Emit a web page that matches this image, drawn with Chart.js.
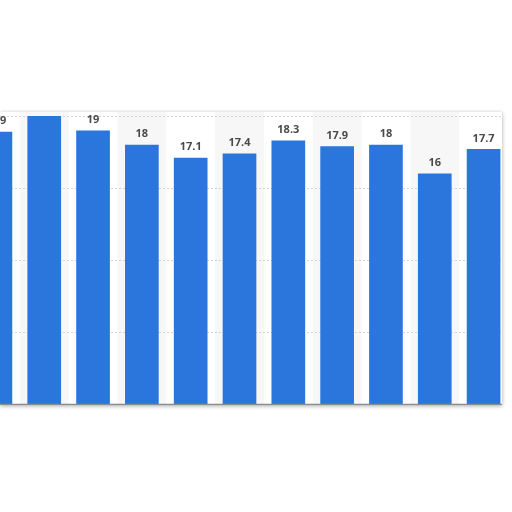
<!DOCTYPE html>
<html lang="en">

<head>
  <meta charset="UTF-8">
  <title>Bars</title>
  <script src="https://cdn.jsdelivr.net/npm/chart.js@4.4.0/dist/chart.umd.min.js"></script>
  <style>
    html, body { margin: 0; padding: 0; background: #fff; width: 512px; height: 512px; overflow: hidden; }
    #crop {
      position: absolute; left: 0; top: 112px; width: 502px; height: 293px;
      overflow: hidden; background: #fff;
      box-shadow: 0 1px 4px rgba(0, 0, 0, 0.35);
    }
    #wrap { position: absolute; left: -29px; top: -36px; width: 537px; height: 330px; }
  </style>
</head>

<body>
  <div id="crop">
    <div id="wrap"><canvas id="chart"></canvas></div>
  </div>
  <script>
    // values (x labels are cut off in the source)
    const labels = ['2009', '2010', '2011', '2012', '2013', '2014', '2015', '2016', '2017', '2018', '2019'];
    const values = [18.9, 20, 19, 18, 17.1, 17.4, 18.3, 17.9, 18, 16, 17.7];
    const gridValues = [5, 10, 15, 20];

    const extras = {
      id: 'extras',
      beforeDatasetsDraw(chart) {
        const { ctx, chartArea, scales } = chart;
        const x = scales.x, y = scales.y;
        const step = x.getPixelForValue(1) - x.getPixelForValue(0);
        ctx.save();
        // grey bands behind every other column
        ctx.fillStyle = '#f7f7f7';
        labels.forEach((l, i) => {
          if (i % 2 === 1) {
            const cx = x.getPixelForValue(i);
            ctx.fillRect(cx - step / 2, chartArea.top - 40, step, chartArea.bottom - chartArea.top + 40);
          }
        });
        // dotted grid lines
        ctx.strokeStyle = '#d4d4d4';
        ctx.lineWidth = 1;
        ctx.setLineDash([2, 2]);
        gridValues.forEach(v => {
          const py = Math.round(y.getPixelForValue(v)) + 0.5;
          ctx.beginPath();
          ctx.moveTo(chartArea.left, py);
          ctx.lineTo(chartArea.right, py);
          ctx.stroke();
        });
        ctx.restore();
      },
      afterDatasetsDraw(chart) {
        const { ctx, chartArea } = chart;
        const meta = chart.getDatasetMeta(0);
        ctx.save();
        // base line
        ctx.strokeStyle = '#8a8a8a';
        ctx.lineWidth = 1.5;
        ctx.beginPath();
        ctx.moveTo(chartArea.left, chartArea.bottom + 0.5);
        ctx.lineTo(chartArea.right, chartArea.bottom + 0.5);
        ctx.stroke();
        // value labels
        ctx.fillStyle = '#4a4a4a';
        ctx.font = 'bold 11px "Open Sans"';
        ctx.textAlign = 'center';
        ctx.textBaseline = 'bottom';
        meta.data.forEach((bar, i) => {
          ctx.fillText(String(values[i]), bar.x, bar.y - 5);
        });
        ctx.restore();
      }
    };

    new Chart(document.getElementById('chart'), {
      type: 'bar',
      data: {
        labels: labels,
        datasets: [{
          data: values,
          backgroundColor: '#2a76dc',
          borderWidth: 0,
          categoryPercentage: 1,
          barPercentage: 0.69
        }]
      },
      options: {
        responsive: true,
        maintainAspectRatio: false,
        animation: false,
        layout: { padding: { top: 40, bottom: 2, left: 0, right: 0 } },
        plugins: { legend: { display: false }, tooltip: { enabled: false } },
        scales: {
          x: { display: false },
          y: { display: false, min: 0, max: 20 }
        }
      },
      plugins: [extras]
    });
  </script>
</body>

</html>
